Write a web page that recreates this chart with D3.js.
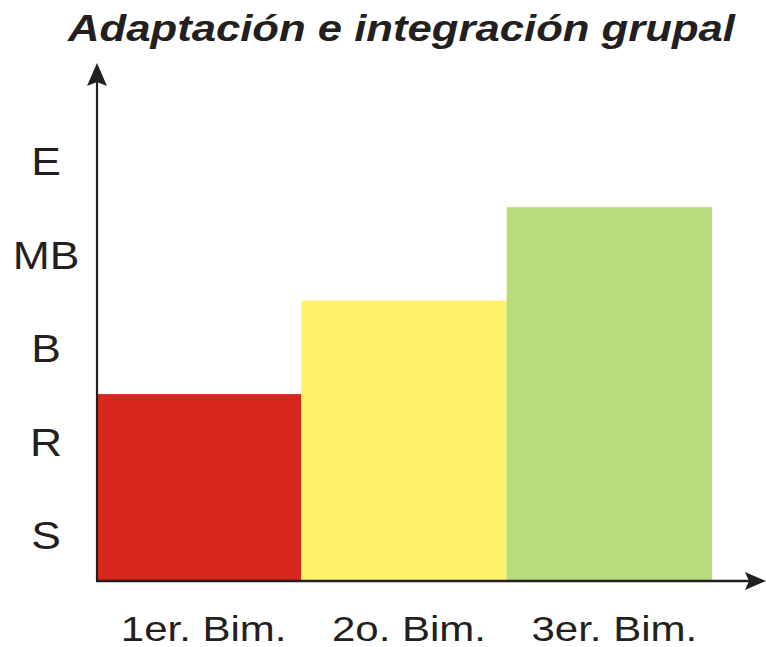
<!DOCTYPE html>
<meta charset="utf-8">
<script src="https://cdn.jsdelivr.net/npm/d3@7"></script>
<style>
body { margin: 0; background: #fff; }
text { font-family: "Liberation Sans", Arial, sans-serif; fill: #231f20; }
</style>
<body>
<script>

// data
var periods = ["1er. Bim.", "2o. Bim.", "3er. Bim."];
var levels = [2, 3, 4];   // 1 = S ... 5 = E
var barColors = ["#d9261c", "#fff36e", "#b8dc7c"];
var levelLabels = ["S", "R", "B", "MB", "E"];
var title = "Adaptación e integración grupal";

var width = 766,
    height = 647;

var svg = d3.select("body").append("svg")
    .attr("width", width)
    .attr("height", height);

var x = d3.scaleBand()
    .domain(periods)
    .range([96, 712])
    .padding(0);

var y = d3.scaleLinear()
    .domain([0, 5.5])
    .range([581, 67]);

// title
svg.append("text")
    .attr("x", 68)
    .attr("y", 41)
    .attr("textLength", 667)
    .attr("lengthAdjust", "spacingAndGlyphs")
    .style("font-size", "37px")
    .style("font-weight", "bold")
    .style("font-style", "italic")
    .text(title);

// bars
svg.append("g")
    .selectAll("rect")
    .data(periods)
    .enter().append("rect")
    .attr("x", function(d) { return x(d); })
    .attr("width", x.bandwidth())
    .attr("y", function(d, i) { return y(levels[i]); })
    .attr("height", function(d, i) { return y(0) - y(levels[i]); })
    .style("fill", function(d, i) { return barColors[i]; });

// axes with arrow heads
var x0 = x.range()[0] + 1, y0 = y(0);
svg.append("line")
    .attr("x1", x0).attr("y1", y0)
    .attr("x2", x0).attr("y2", 80)
    .style("stroke", "#231f20").style("stroke-width", 2.2);
svg.append("path")
    .attr("d", "M" + x0 + ",63 L" + (x0 - 10) + ",86 L" + x0 + ",82 L" + (x0 + 10) + ",86 Z")
    .style("fill", "#231f20");

svg.append("line")
    .attr("x1", x0 - 1).attr("y1", y0)
    .attr("x2", 752).attr("y2", y0)
    .style("stroke", "#231f20").style("stroke-width", 2.4);
svg.append("path")
    .attr("d", "M766," + y0 + " L745," + (y0 - 9) + " L749," + y0 + " L745," + (y0 + 9) + " Z")
    .style("fill", "#231f20");

// y labels
svg.append("g")
    .selectAll("text")
    .data(levelLabels)
    .enter().append("text")
    .attr("transform", function(d, i) {
        return "translate(46," + (y(i + 0.48) + 13) + ") scale(1.17,1)";
    })
    .attr("text-anchor", "middle")
    .style("font-size", "38px")
    .text(function(d) { return d; });

// x labels
svg.append("g")
    .selectAll("text")
    .data(periods)
    .enter().append("text")
    .attr("transform", function(d) {
        return "translate(" + (x(d) + x.bandwidth() / 2 + 5) + ",641) scale(1.2,1)";
    })
    .attr("text-anchor", "middle")
    .style("font-size", "35px")
    .text(function(d) { return d; });

</script>
</body>
</html>
